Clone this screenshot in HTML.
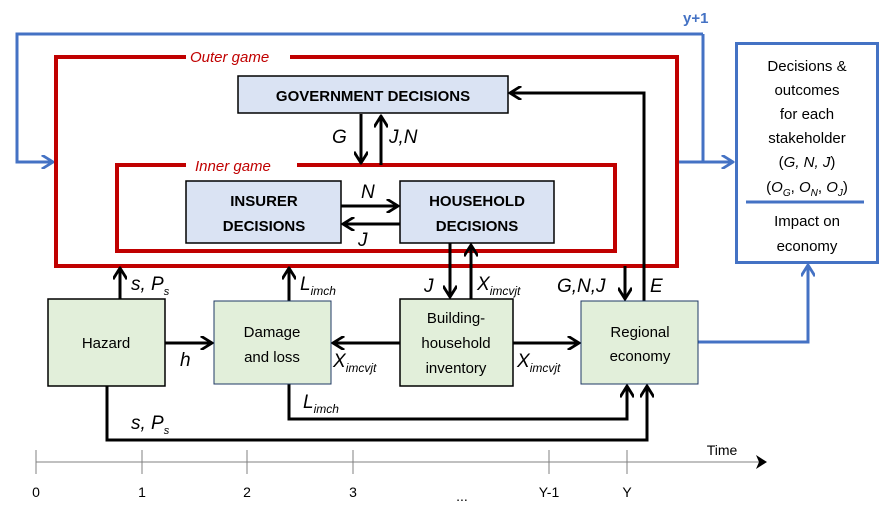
<!DOCTYPE html>
<html><head><meta charset="utf-8"><style>
html,body{margin:0;padding:0;background:#fff;width:896px;height:520px;overflow:hidden}
svg{display:block}
text{font-family:"Liberation Sans",sans-serif}
.b{font-weight:bold;font-size:15px}
.g{font-size:15px}
.i{font-style:italic;font-size:19px}
</style></head><body>
<svg width="896" height="520" viewBox="0 0 896 520" xmlns="http://www.w3.org/2000/svg">
<defs>
<marker id="k" viewBox="0 0 10 10" refX="9" refY="5" markerWidth="14" markerHeight="14" orient="auto" markerUnits="userSpaceOnUse"><path d="M1,0 L9,5 L1,10" fill="none" stroke="#000" stroke-width="2"/></marker>
<marker id="bl" viewBox="0 0 10 10" refX="9" refY="5" markerWidth="14" markerHeight="14" orient="auto" markerUnits="userSpaceOnUse"><path d="M1,0 L9,5 L1,10" fill="none" stroke="#4472c4" stroke-width="2"/></marker>
</defs>
<!-- blue loop -->
<path d="M703,34 H17 V162 H53" fill="none" stroke="#4472c4" stroke-width="3" marker-end="url(#bl)"/>
<path d="M703,34 V162" fill="none" stroke="#4472c4" stroke-width="3"/>
<path d="M678,162 H733" fill="none" stroke="#4472c4" stroke-width="3" marker-end="url(#bl)"/>
<text x="683" y="23" fill="#4472c4" font-weight="bold" font-size="15">y+1</text>
<rect x="736.5" y="43.5" width="141" height="219" fill="#fff" stroke="#4472c4" stroke-width="3"/>
<line x1="746" y1="202" x2="864" y2="202" stroke="#4472c4" stroke-width="3"/>
<g class="g" text-anchor="middle" fill="#000">
<text x="807" y="71">Decisions &amp;</text>
<text x="807" y="95">outcomes</text>
<text x="807" y="119">for each</text>
<text x="807" y="143">stakeholder</text>
<text x="807" y="167">(<tspan font-style="italic">G, N, J</tspan>)</text>
<text x="807" y="192">(<tspan font-style="italic">O</tspan><tspan font-style="italic" font-size="10" dy="4">G</tspan><tspan dy="-4">, </tspan><tspan font-style="italic">O</tspan><tspan font-style="italic" font-size="10" dy="4">N</tspan><tspan dy="-4">, </tspan><tspan font-style="italic">O</tspan><tspan font-style="italic" font-size="10" dy="4">J</tspan><tspan dy="-4">)</tspan></text>
<text x="807" y="226">Impact on</text>
<text x="807" y="251">economy</text>
</g>
<path d="M698,342 H808 V265" fill="none" stroke="#4472c4" stroke-width="3" marker-end="url(#bl)"/>
<!-- red frames -->
<rect x="56" y="57" width="621" height="209" fill="none" stroke="#c00000" stroke-width="4"/>
<rect x="186" y="48" width="104" height="18" fill="#fff"/>
<text x="190" y="62" fill="#c00000" font-style="italic" font-size="15">Outer game</text>
<rect x="117" y="165" width="498" height="86" fill="none" stroke="#c00000" stroke-width="4"/>
<rect x="186" y="156" width="111" height="18" fill="#fff"/>
<text x="195" y="171" fill="#c00000" font-style="italic" font-size="15">Inner game</text>
<!-- decision boxes -->
<rect x="238" y="76" width="270" height="37" fill="#dae3f3" stroke="#000" stroke-width="1.5"/>
<text x="373" y="101" class="b" text-anchor="middle">GOVERNMENT DECISIONS</text>
<rect x="186" y="181" width="155" height="62" fill="#dae3f3" stroke="#000" stroke-width="1.5"/>
<text x="264" y="206" class="b" text-anchor="middle">INSURER</text>
<text x="264" y="231" class="b" text-anchor="middle">DECISIONS</text>
<rect x="400" y="181" width="154" height="62" fill="#dae3f3" stroke="#000" stroke-width="1.5"/>
<text x="477" y="206" class="b" text-anchor="middle">HOUSEHOLD</text>
<text x="477" y="231" class="b" text-anchor="middle">DECISIONS</text>
<g stroke="#000" stroke-width="3" fill="none">
<path d="M361,114 V163" marker-end="url(#k)"/>
<path d="M381,165 V116" marker-end="url(#k)"/>
<path d="M341,206 H398" marker-end="url(#k)"/>
<path d="M400,224 H343" marker-end="url(#k)"/>
<path d="M450,243 V297" marker-end="url(#k)"/>
<path d="M471,299 V245" marker-end="url(#k)"/>
<path d="M625,266 V299" marker-end="url(#k)"/>
<path d="M644,301 V93 H510" marker-end="url(#k)"/>
<path d="M120,299 V268" marker-end="url(#k)"/>
<path d="M289,301 V268" marker-end="url(#k)"/>
<path d="M165,343 H212" marker-end="url(#k)"/>
<path d="M400,343 H333" marker-end="url(#k)"/>
<path d="M513,343 H579" marker-end="url(#k)"/>
<path d="M289,384 V419 H627 V386" marker-end="url(#k)"/>
<path d="M107,386 V440 H647 V386" marker-end="url(#k)"/>
</g>
<!-- bottom boxes -->
<g fill="#e2efda" stroke="#000" stroke-width="1.5">
<rect x="48" y="299" width="117" height="87"/>
<rect x="214" y="301" width="117" height="83" stroke="#1f3864" stroke-width="1"/>
<rect x="400" y="299" width="113" height="87"/>
<rect x="581" y="301" width="117" height="83" stroke="#1f3864" stroke-width="1"/>
</g>
<g class="g" text-anchor="middle">
<text x="106" y="348">Hazard</text>
<text x="272" y="337">Damage</text>
<text x="272" y="362">and loss</text>
<text x="456" y="323">Building-</text>
<text x="456" y="348">household</text>
<text x="456" y="373">inventory</text>
<text x="640" y="337">Regional</text>
<text x="640" y="361">economy</text>
</g>
<!-- labels -->
<g class="i">
<text x="332" y="143">G</text>
<text x="389" y="143">J,N</text>
<text x="361" y="198">N</text>
<text x="358" y="246">J</text>
<text x="131" y="290">s, P<tspan font-size="11" dy="5">s</tspan></text>
<text x="300" y="290">L<tspan font-size="12" dy="5">imch</tspan></text>
<text x="424" y="292">J</text>
<text x="477" y="290">X<tspan font-size="12" dy="5">imcvjt</tspan></text>
<text x="557" y="292">G,N,J</text>
<text x="650" y="292">E</text>
<text x="180" y="366">h</text>
<text x="333" y="367">X<tspan font-size="12" dy="5">imcvjt</tspan></text>
<text x="517" y="367">X<tspan font-size="12" dy="5">imcvjt</tspan></text>
<text x="303" y="408">L<tspan font-size="12" dy="5">imch</tspan></text>
<text x="131" y="429">s, P<tspan font-size="11" dy="5">s</tspan></text>
</g>
<!-- time axis -->
<g stroke="#808080" stroke-width="1">
<line x1="36" y1="462" x2="762" y2="462"/>
<line x1="36" y1="450" x2="36" y2="474"/>
<line x1="142" y1="450" x2="142" y2="474"/>
<line x1="247" y1="450" x2="247" y2="474"/>
<line x1="353" y1="450" x2="353" y2="474"/>
<line x1="549" y1="450" x2="549" y2="474"/>
<line x1="627" y1="450" x2="627" y2="474"/>
</g>
<path d="M756,455 L767,462 L756,469 L759,462 Z" fill="#000"/>
<g font-size="14" text-anchor="middle">
<text x="36" y="497">0</text>
<text x="142" y="497">1</text>
<text x="247" y="497">2</text>
<text x="353" y="497">3</text>
<text x="462" y="501">...</text>
<text x="549" y="497">Y-1</text>
<text x="627" y="497">Y</text>
<text x="722" y="455">Time</text>
</g>
</svg>
</body></html>
